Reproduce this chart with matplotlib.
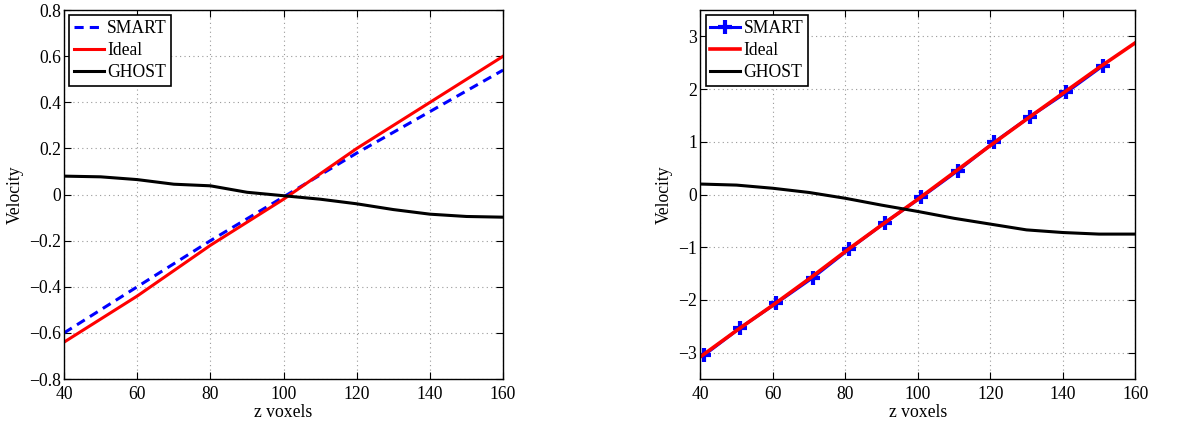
import numpy as np
import matplotlib
matplotlib.use("Agg")
import matplotlib.pyplot as plt

plt.rcParams['font.family'] = ['Liberation Serif', 'DejaVu Serif']
plt.rcParams['mathtext.fontset'] = 'stix'

# left panel: velocity profiles (first case)
z_left = [40, 50, 60, 70, 80, 90, 100, 110, 120, 130, 140, 150, 160]
smart_left = [-0.60, -0.50, -0.40, -0.30, -0.20, -0.105, -0.01, 0.085, 0.18, 0.27, 0.36, 0.45, 0.54]
ideal_left = [-0.64, -0.54, -0.44, -0.33, -0.22, -0.12, -0.02, 0.09, 0.20, 0.30, 0.40, 0.50, 0.60]
ghost_left = [0.080, 0.077, 0.065, 0.045, 0.038, 0.010, -0.005, -0.020, -0.040, -0.065, -0.085, -0.095, -0.098]

# right panel: velocity profiles (second case)
z_smart_right = [41, 51, 61, 71, 81, 91, 101, 111, 121, 131, 141, 151]
smart_right = [-3.05, -2.53, -2.06, -1.58, -1.04, -0.53, -0.05, 0.45, 0.99, 1.48, 1.94, 2.44]
z_right = [40, 50, 60, 70, 80, 90, 100, 110, 120, 130, 140, 150, 160]
ideal_right = [-3.08, -2.58, -2.10, -1.60, -1.08, -0.58, -0.09, 0.42, 0.93, 1.43, 1.92, 2.41, 2.88]
ghost_right = [0.20, 0.18, 0.12, 0.04, -0.07, -0.20, -0.32, -0.45, -0.56, -0.67, -0.72, -0.75, -0.75]

FS = 12.7


def style_axes(ax, ylim, yticks, yfmt):
    ax.set_xlim(40, 160)
    ax.set_ylim(*ylim)
    ax.set_xticks([40, 60, 80, 100, 120, 140, 160])
    ax.set_yticks(yticks)
    ax.set_yticklabels([yfmt(v) for v in yticks])
    ax.tick_params(direction='in', top=True, right=True, labelsize=FS, length=5)
    ax.tick_params(axis='y', pad=2)
    ax.tick_params(axis='x', pad=5)
    ax.grid(True, linestyle=(0, (1, 3)), color='#999999', linewidth=0.8)
    for sp in ax.spines.values():
        sp.set_linewidth(1.0)
    ax.set_xlabel('z voxels', fontsize=FS, labelpad=0.5)
    ax.set_ylabel('Velocity', fontsize=FS, labelpad=4)
    leg = ax.legend(loc='upper left', fontsize=FS, fancybox=False, framealpha=1,
                    edgecolor='black', borderpad=0.25, labelspacing=0.3,
                    handlelength=1.7, handletextpad=0.2, borderaxespad=0.3)
    leg.get_frame().set_linewidth(1.2)


def fmt_left(v):
    if abs(v) < 1e-9:
        return '0'
    s = f'{v:.1f}'
    return s.replace('-', '\u2212')


def fmt_right(v):
    return f'{int(v)}'.replace('-', '\u2212')


fig = plt.figure(figsize=(11.95, 4.23), dpi=100)
ax1 = fig.add_axes([0.0536, 0.104, 0.3674, 0.872])
ax2 = fig.add_axes([0.586, 0.104, 0.364, 0.872])

ax1.plot(z_left, smart_left, color='blue', linestyle='--', linewidth=2.2, dashes=(3, 2), label='SMART')
ax1.plot(z_left, ideal_left, color='red', linewidth=2.2, label='Ideal')
ax1.plot(z_left, ghost_left, color='black', linewidth=2.2, label='GHOST')
style_axes(ax1, (-0.8, 0.8), [-0.8, -0.6, -0.4, -0.2, 0, 0.2, 0.4, 0.6, 0.8], fmt_left)

ax2.plot(z_smart_right, smart_right, color='blue', linewidth=2.2, marker='+',
         markersize=10, markeredgewidth=3, label='SMART')
ax2.plot(z_right, ideal_right, color='red', linewidth=2.6, label='Ideal')
ax2.plot(z_right, ghost_right, color='black', linewidth=2.2, label='GHOST')
style_axes(ax2, (-3.5, 3.5), [-3, -2, -1, 0, 1, 2, 3], fmt_right)

fig.savefig('out.png', dpi=100)
